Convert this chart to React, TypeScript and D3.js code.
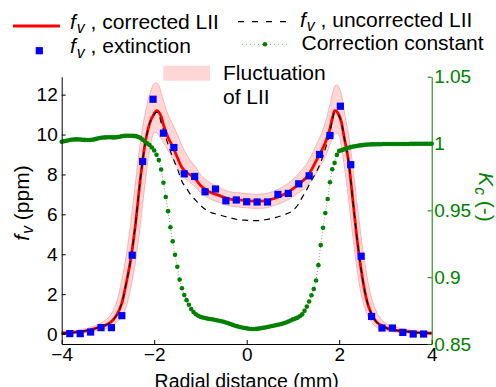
import { useRef, useEffect } from 'react';
import * as d3 from 'd3';

// LII profiles (left axis, ppm)
const lineX = [
    -4, -3.7, -3.4, -3.2, -3, -2.9, -2.8, -2.7, -2.6, -2.5,
    -2.4, -2.3, -2.2, -2.1, -2, -1.95, -1.9, -1.85, -1.8, -1.7,
    -1.6, -1.5, -1.4, -1.3, -1.2, -1.1, -1, -0.8, -0.6, -0.4,
    -0.2, 0, 0.2, 0.4, 0.6, 0.8, 1, 1.1, 1.2, 1.3,
    1.4, 1.5, 1.6, 1.7, 1.8, 1.85, 1.9, 1.95, 2, 2.05,
    2.1, 2.2, 2.3, 2.4, 2.5, 2.6, 2.7, 2.8, 2.9, 3,
    3.2, 3.4, 3.7, 4,
];
const corrected = [
    0.04, 0.09, 0.2, 0.33, 0.5, 0.68, 1.0, 1.55, 2.6, 3.85,
    5.6, 7.75, 9.5, 10.55, 11.05, 11.2, 11.12, 10.9, 10.5, 9.85,
    9.4, 8.85, 8.35, 8.1, 7.95, 7.75, 7.45, 7.12, 6.95, 6.78,
    6.72, 6.68, 6.65, 6.67, 6.8, 7.0, 7.28, 7.47, 7.65, 7.88,
    8.23, 8.67, 9.1, 9.6, 10.3, 10.8, 11.2, 11.15, 10.95, 10.6,
    9.95, 8.7, 6.6, 4.5, 2.85, 1.65, 1.0, 0.62, 0.45, 0.32,
    0.2, 0.14, 0.07, 0.04,
];
const uncorrected = [
    0.04, 0.09, 0.2, 0.33, 0.5, 0.68, 1.0, 1.55, 2.6, 3.85,
    5.6, 7.75, 9.5, 10.55, 11.0, 11.12, 11.0, 10.6, 10.23, 9.5,
    8.85, 8.3, 7.65, 7.3, 6.95, 6.7, 6.45, 6.12, 5.98, 5.85,
    5.74, 5.7, 5.68, 5.73, 5.83, 5.97, 6.2, 6.45, 6.85, 7.25,
    7.7, 8.1, 8.6, 9.3, 10.1, 10.7, 11.1, 11.1, 10.9, 10.6,
    9.95, 8.7, 6.6, 4.5, 2.85, 1.65, 1.0, 0.62, 0.45, 0.32,
    0.2, 0.14, 0.07, 0.04,
];
const bandLow = [
    0, 0.03, 0.1, 0.18, 0.3, 0.4, 0.6, 0.9, 1.4, 2.4,
    3.7, 5.5, 7.5, 9.2, 10.1, 10.1, 9.95, 9.8, 9.6, 9.2,
    8.8, 8.4, 7.95, 7.75, 7.55, 7.35, 7.1, 6.78, 6.6, 6.45,
    6.37, 6.33, 6.3, 6.32, 6.45, 6.62, 6.88, 7.05, 7.2, 7.4,
    7.7, 8.05, 8.45, 8.9, 9.5, 9.8, 10.0, 10.05, 9.95, 9.4,
    8.6, 6.8, 4.8, 3.0, 1.75, 1.0, 0.6, 0.35, 0.25, 0.18,
    0.1, 0.06, 0.02, 0,
];
const bandHigh = [
    0.12, 0.18, 0.32, 0.5, 0.8, 1.1, 1.7, 2.7, 4.0, 5.7,
    7.7, 9.6, 11.0, 12.0, 12.55, 12.6, 12.45, 12.1, 11.7, 11.0,
    10.5, 10.0, 9.45, 9.0, 8.65, 8.35, 8.0, 7.6, 7.35, 7.15,
    7.08, 7.04, 7.0, 7.03, 7.18, 7.4, 7.75, 8.0, 8.25, 8.55,
    8.95, 9.45, 9.95, 10.6, 11.5, 12.0, 12.4, 12.5, 12.35, 12.0,
    11.3, 10.0, 8.3, 6.3, 4.4, 2.9, 1.8, 1.15, 0.75, 0.55,
    0.35, 0.25, 0.15, 0.1,
];

// extinction measurements
const extX = [
    -3.825, -3.6, -3.375, -3.15, -2.925, -2.7, -2.475, -2.25, -2.025, -1.8,
    -1.575, -1.35, -1.125, -0.9, -0.675, -0.45, -0.225, 0, 0.225, 0.45,
    0.675, 0.9, 1.125, 1.35, 1.575, 1.8, 2.025, 2.25, 2.475, 2.7,
    2.925, 3.15, 3.375, 3.6, 3.825,
];
const extinction = [
    0.02, 0.02, 0.1, 0.32, 0.32, 0.92, 3.95, 8.65, 11.77, 10.07,
    9.35, 8.03, 7.9, 7.13, 7.27, 6.68, 6.72, 6.63, 6.62, 6.62,
    7.0, 7.05, 7.53, 7.93, 9.0, 9.95, 11.42, 8.49, 3.9, 0.88,
    0.3, 0.3, 0.08, 0.0, 0.0,
];

// correction constant (right axis)
const kcX = [
    -4, -3.95, -3.9, -3.85, -3.8, -3.75, -3.7, -3.65, -3.6, -3.55,
    -3.5, -3.45, -3.4, -3.35, -3.3, -3.25, -3.2, -3.15, -3.1, -3.05,
    -3, -2.95, -2.9, -2.85, -2.8, -2.75, -2.7, -2.65, -2.6, -2.55,
    -2.5, -2.45, -2.4, -2.35, -2.3, -2.25, -2.2, -2.15, -2.1, -2.05,
    -2, -1.95, -1.9, -1.85, -1.8, -1.75, -1.7, -1.65, -1.6, -1.55,
    -1.5, -1.45, -1.4, -1.35, -1.3, -1.25, -1.2, -1.15, -1.1, -1.05,
    -1, -0.95, -0.9, -0.85, -0.8, -0.75, -0.7, -0.65, -0.6, -0.55,
    -0.5, -0.45, -0.4, -0.35, -0.3, -0.25, -0.2, -0.15, -0.1, -0.05,
    0, 0.05, 0.1, 0.15, 0.2, 0.25, 0.3, 0.35, 0.4, 0.45,
    0.5, 0.55, 0.6, 0.65, 0.7, 0.75, 0.8, 0.85, 0.9, 0.95,
    1, 1.05, 1.1, 1.15, 1.2, 1.25, 1.3, 1.35, 1.4, 1.45,
    1.5, 1.55, 1.6, 1.65, 1.7, 1.75, 1.8, 1.85, 1.9, 1.95,
    2, 2.05, 2.1, 2.15, 2.2, 2.25, 2.3, 2.35, 2.4, 2.45,
    2.5, 2.55, 2.6, 2.65, 2.7, 2.75, 2.8, 2.85, 2.9, 2.95,
    3, 3.05, 3.1, 3.15, 3.2, 3.25, 3.3, 3.35, 3.4, 3.45,
    3.5, 3.55, 3.6, 3.65, 3.7, 3.75, 3.8, 3.85, 3.9, 3.95,
    4,
];
const kc = [
    1.0013, 1.0017, 1.0021, 1.0025, 1.0028, 1.0030, 1.0031, 1.0031, 1.0030, 1.0028,
    1.0027, 1.0026, 1.0026, 1.0028, 1.0031, 1.0035, 1.0039, 1.0043, 1.0045, 1.0046,
    1.0047, 1.0047, 1.0046, 1.0046, 1.0048, 1.0051, 1.0054, 1.0057, 1.0058, 1.0058,
    1.0058, 1.0057, 1.0055, 1.0050, 1.0042, 1.0029, 1.0015, 1.0001, 0.9989, 0.9970,
    0.9948, 0.9916, 0.9876, 0.9806, 0.9706, 0.9600, 0.9494, 0.9374, 0.9268, 0.9168,
    0.9078, 0.8982, 0.8917, 0.8867, 0.8828, 0.8794, 0.8761, 0.8739, 0.8723, 0.8711,
    0.8703, 0.8698, 0.8694, 0.8690, 0.8687, 0.8685, 0.8682, 0.8678, 0.8674, 0.8670,
    0.8666, 0.8661, 0.8655, 0.8650, 0.8643, 0.8637, 0.8632, 0.8627, 0.8623, 0.8620,
    0.8617, 0.8614, 0.8612, 0.8612, 0.8613, 0.8615, 0.8618, 0.8621, 0.8624, 0.8627,
    0.8631, 0.8635, 0.8638, 0.8642, 0.8646, 0.8650, 0.8655, 0.8661, 0.8668, 0.8676,
    0.8684, 0.8690, 0.8697, 0.8708, 0.8722, 0.8748, 0.8780, 0.8818, 0.8865, 0.8912,
    0.8975, 0.9090, 0.9240, 0.9370, 0.9480, 0.9585, 0.9710, 0.9808, 0.9855, 0.9915,
    0.9945, 0.9950, 0.9956, 0.9962, 0.9968, 0.9973, 0.9977, 0.9980, 0.9983, 0.9986,
    0.9988, 0.9990, 0.9992, 0.9993, 0.9994, 0.9994, 0.9995, 0.9995, 0.9995, 0.9996,
    0.9996, 0.9996, 0.9996, 0.9996, 0.9997, 0.9997, 0.9997, 0.9997, 0.9997, 0.9997,
    0.9997, 0.9998, 0.9998, 0.9998, 0.9998, 0.9998, 0.9998, 0.9998, 0.9998, 0.9998,
    0.9998,
];

const xTicks = [-4, -2, 0, 2, 4];
const yTicks = [0, 2, 4, 6, 8, 10, 12];
const kTicks = [0.85, 0.9, 0.95, 1, 1.05];

const GREEN = '#008000';
const FONT = '"Liberation Sans", Arial, sans-serif';

export default function App() {
    const svgRef = useRef<SVGSVGElement>(null);

    useEffect(() => {
        if (!svgRef.current) return;
        const width = 496;
        const height = 387;
        const plot = { left: 61.7, right: 431.7, top: 76.7, bottom: 344 };

        const svg = d3.select(svgRef.current)
            .attr('width', width)
            .attr('height', height)
            .style('font-family', FONT);
        svg.selectAll('*').remove();

        const x = d3.scaleLinear().domain([-4, 4]).range([plot.left, plot.right]);
        const y = d3.scaleLinear().domain([-0.5, 12.9]).range([plot.bottom, plot.top]);
        const yK = d3.scaleLinear().domain([0.85, 1.05]).range([plot.bottom, plot.top]);

        const idx = d3.range(lineX.length);

        // fluctuation band
        const band = d3.area<number>()
            .x(i => x(lineX[i]))
            .y0(i => y(bandLow[i]))
            .y1(i => y(bandHigh[i]))
            .curve(d3.curveMonotoneX);
        svg.append('path')
            .datum(idx)
            .attr('fill', '#ffd6d6')
            .attr('stroke', '#f7a5a5')
            .attr('stroke-width', 0.8)
            .attr('d', band);

        // corrected LII
        const line = (vals: number[]) => d3.line<number>()
            .x(i => x(lineX[i]))
            .y(i => y(vals[i]))
            .curve(d3.curveMonotoneX);
        svg.append('path')
            .datum(idx)
            .attr('fill', 'none')
            .attr('stroke', '#ff0000')
            .attr('stroke-width', 2.8)
            .attr('d', line(corrected));

        // uncorrected LII
        svg.append('path')
            .datum(idx)
            .attr('fill', 'none')
            .attr('stroke', '#000')
            .attr('stroke-width', 1.2)
            .attr('stroke-dasharray', '6,5')
            .attr('d', line(uncorrected));

        // extinction squares
        const sq = 7.2;
        svg.selectAll('.ext')
            .data(extX)
            .enter()
            .append('rect')
            .attr('class', 'ext')
            .attr('x', (d) => x(d) - sq / 2)
            .attr('y', (_, i) => y(extinction[i]) - sq / 2)
            .attr('width', sq)
            .attr('height', sq)
            .attr('fill', '#0000ff');

        // correction constant
        const kLine = d3.line<number>()
            .x(d => x(d))
            .y((_, i) => yK(kc[i]));
        svg.append('path')
            .datum(kcX)
            .attr('fill', 'none')
            .attr('stroke', GREEN)
            .attr('stroke-width', 1)
            .attr('stroke-dasharray', '1,2')
            .attr('opacity', 0.6)
            .attr('d', kLine);
        svg.selectAll('.kc')
            .data(kcX)
            .enter()
            .append('circle')
            .attr('class', 'kc')
            .attr('cx', d => x(d))
            .attr('cy', (_, i) => yK(kc[i]))
            .attr('r', 2.3)
            .attr('fill', GREEN);

        // axes
        const styleAxis = (g: d3.Selection<SVGGElement, unknown, null, undefined>, color: string) => {
            g.attr('font-family', FONT).attr('font-size', 19);
            g.selectAll('.domain').attr('stroke', color).attr('stroke-width', 1);
            g.selectAll('.tick line').attr('stroke', color);
            g.selectAll('.tick text').attr('fill', color);
        };

        const gx = svg.append('g')
            .attr('transform', `translate(0,${plot.bottom})`)
            .call(d3.axisBottom(x).tickValues(xTicks).tickSizeInner(-4).tickSizeOuter(0).tickPadding(3.5));
        styleAxis(gx, '#000');

        const gy = svg.append('g')
            .attr('transform', `translate(${plot.left},0)`)
            .call(d3.axisLeft(y).tickValues(yTicks).tickSizeInner(-4).tickSizeOuter(0).tickPadding(4));
        styleAxis(gy, '#000');

        const gk = svg.append('g')
            .attr('transform', `translate(${plot.right},0)`)
            .call(d3.axisRight(yK).tickValues(kTicks).tickSizeInner(-4).tickSizeOuter(0).tickPadding(2.5)
                .tickFormat(d => String(d)));
        styleAxis(gk, GREEN);

        // axis labels
        svg.append('text')
            .attr('x', (plot.left + plot.right) / 2)
            .attr('y', 387.5)
            .attr('text-anchor', 'middle')
            .style('font-size', '19.5px')
            .text('Radial distance (mm)');

        const subLabel = (
            parent: d3.Selection<SVGSVGElement | SVGGElement, unknown, null, undefined>,
            main: string, sub: string, rest: string, size: number,
        ) => {
            const t = parent.append('text').style('font-size', `${size}px`).style('white-space', 'pre');
            t.append('tspan').style('font-style', 'italic').text(main);
            t.append('tspan').style('font-style', 'italic').style('font-size', `${size * 0.75}px`)
                .attr('dx', 1).attr('dy', size * 0.2).text(sub);
            t.append('tspan').attr('dy', -size * 0.2).text(rest);
            return t;
        };

        subLabel(svg, 'f', 'v', ' (ppm)', 21)
            .attr('transform', 'translate(29,203) rotate(-90)')
            .attr('text-anchor', 'middle');

        subLabel(svg, 'K', 'c', ' (-)', 21)
            .attr('transform', 'translate(479,197) rotate(90)')
            .attr('text-anchor', 'middle')
            .attr('fill', GREEN);

        // legend
        const lg = svg.append('g');
        lg.append('line').attr('x1', 13).attr('x2', 60).attr('y1', 26).attr('y2', 26)
            .attr('stroke', '#ff0000').attr('stroke-width', 2.8);
        subLabel(lg, 'f', 'v', ' , corrected LII', 21).attr('x', 70).attr('y', 28.5);

        lg.append('rect').attr('x', 39.3 - sq / 2).attr('y', 50.7 - sq / 2)
            .attr('width', sq).attr('height', sq).attr('fill', '#0000ff');
        subLabel(lg, 'f', 'v', ' , extinction', 21).attr('x', 70).attr('y', 53.3);

        lg.append('line').attr('x1', 238).attr('x2', 287).attr('y1', 21.7).attr('y2', 21.7)
            .attr('stroke', '#000').attr('stroke-width', 1.2).attr('stroke-dasharray', '6,8');
        subLabel(lg, 'f', 'v', ' , uncorrected LII', 21).attr('x', 300).attr('y', 26.5);

        lg.append('line').attr('x1', 242).attr('x2', 287).attr('y1', 44.3).attr('y2', 44.3)
            .attr('stroke', GREEN).attr('stroke-width', 1).attr('stroke-dasharray', '1,3').attr('opacity', 0.6);
        lg.append('circle').attr('cx', 265).attr('cy', 44.3).attr('r', 2.3).attr('fill', GREEN);
        lg.append('text').attr('x', 301.5).attr('y', 50.3).style('font-size', '21px').text('Correction constant');

        lg.append('rect').attr('x', 163.3).attr('y', 65.7).attr('width', 46.7).attr('height', 15)
            .attr('fill', '#ffd6d6');
        lg.append('text').attr('x', 223).attr('y', 80.3).style('font-size', '21px').text('Fluctuation');
        lg.append('text').attr('x', 223).attr('y', 104.3).style('font-size', '21px').text('of LII');
    }, []);

    return (
        <svg ref={svgRef} style={{ position: 'absolute', left: 0, top: 0 }}></svg>
    );
}
